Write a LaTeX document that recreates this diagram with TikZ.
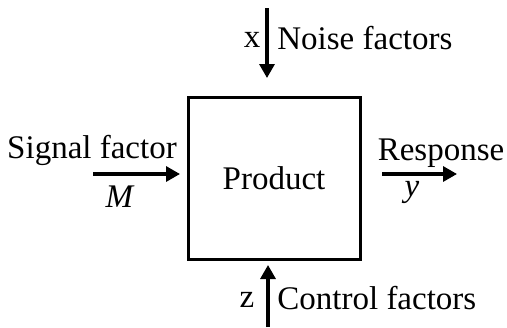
\documentclass[tikz,border=0pt]{standalone}
\usepackage{fontspec}
\setmainfont{Liberation Serif}
\usetikzlibrary{arrows.meta}
\begin{document}
\begin{tikzpicture}[
  x=0.5pt, y=-0.5pt,
  every node/.style={inner sep=0pt, font=\fontsize{16.5}{19}\selectfont},
  boxP/.style={rectangle, draw=black, line width=1.5pt,
               minimum width=86pt, minimum height=81pt},
  arr/.style={line width=1.6pt, -{Triangle[length=7pt,width=7.5pt]}},
  lbl/.style={anchor=west}
]
\useasboundingbox (0,0) rectangle (507,327);
% product box
\node[boxP] (product) at (274,178) {Product};

% noise factors (top)
\coordinate (xin) at (267,8);
\coordinate (xout) at (267,78);
\draw[arr] (xin) -- (xout);
\node (xlab) at (252,40) {x};
\node[lbl] (noise) at (277,38) {Noise factors};

% signal factor (left)
\coordinate (min) at (93,174);
\coordinate (mout) at (180,174);
\draw[arr] (min) -- (mout);
\node (signal) at (92,150) {Signal factor};
\node (mlab) at (120,197) {\textit{M}};

% response (right)
\coordinate (yin) at (382,174);
\coordinate (yout) at (457,174);
\draw[arr] (yin) -- (yout);
\node (resp) at (441,153) {Response};
\node (ylab) at (412,192) {\textit{y}};

% control factors (bottom)
\coordinate (zin) at (268,327);
\coordinate (zout) at (268,265);
\draw[arr] (zin) -- (zout);
\node (zlab) at (247,300) {z};
\node[lbl] (control) at (277,298) {Control factors};
\end{tikzpicture}
\end{document}
